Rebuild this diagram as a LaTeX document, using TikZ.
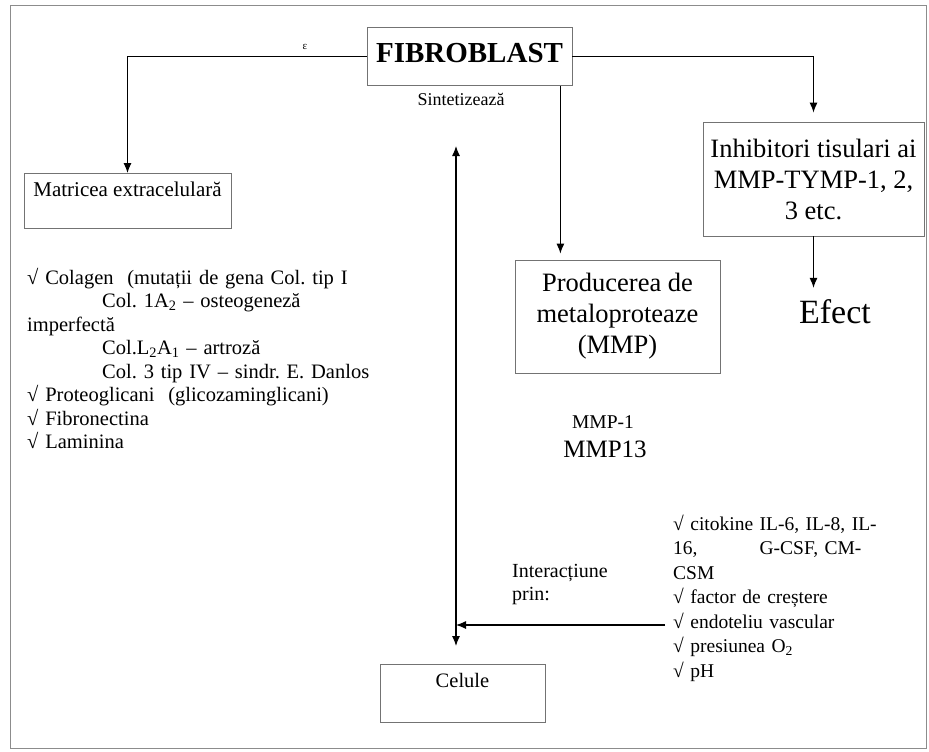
\documentclass[tikz,border=0pt]{standalone}
\usepackage{fontspec}
\setmainfont{Liberation Serif}
\frenchspacing
\usetikzlibrary{arrows.meta,positioning,calc}
\tikzset{
  box/.style={draw=black!55, line width=0.8pt, inner sep=0pt, align=center},
  smalltxt/.style={font=\fontsize{19.5}{24.5}\selectfont, inner sep=0pt},
  bigtxt/.style={font=\fontsize{26.5}{31}\selectfont, inner sep=0pt},
  link/.style={->, line width=1.1pt},
  pageframe/.style={draw=black!45, line width=1pt},
}
\begin{document}
\begin{tikzpicture}[x=1pt,y=-1pt,>={Latex[length=10pt,width=8pt]}]
    \useasboundingbox (0,0) rectangle (929,752);
    % Page frame
    \draw[pageframe] (10,6) rectangle (926,748);
    % Boxes
    \node[box, anchor=north, minimum width=205pt, text height=35pt, text depth=23pt,
          font=\fontsize{29}{29}\selectfont\bfseries] (fib) at (469.5,27) {FIBROBLAST};
    \node[box, smalltxt, font=\fontsize{21}{24}\selectfont, anchor=north, minimum width=207pt, text height=23pt, text depth=32pt] (matrix) at (127.5,173) {Matricea extracelulară};
    \node[box, bigtxt, minimum width=221pt, minimum height=114pt] (inh) at (813.5,179) {Inhibitori tisulari ai\\MMP-TYMP-1, 2,\\3 etc.};
    \node[box, bigtxt, minimum width=205pt, minimum height=113pt] (prod) at (617.5,316.5) {Producerea de\\metaloproteaze\\(MMP)};
    \node[box, smalltxt, font=\fontsize{20.5}{24}\selectfont, anchor=north, minimum width=165pt, text height=23pt, text depth=35pt] (cel) at (462.5,664) {Celule};
    % Free texts
    \node[anchor=base, inner sep=0pt, font=\fontsize{11}{11}\selectfont] (tick) at (305,49) {ε};
    \node[smalltxt, font=\fontsize{18}{22}\selectfont, anchor=base] (synth) at (461,106) {Sintetizează};
    \node[anchor=base, inner sep=0pt, font=\fontsize{34}{34}\selectfont] (efect) at (835,323) {Efect};
    \node[smalltxt, anchor=base] (mmp1) at (603,428) {MMP-1};
    \node[anchor=base, inner sep=0pt, font=\fontsize{25}{25}\selectfont] (mmp13) at (605,457) {MMP13};
    \node[smalltxt, font=\fontsize{20.5}{23.5}\selectfont, anchor=base west, text width=380pt, align=left] (ecm) at (27,284)
      {√ Colagen\ \ (mutații de gena Col. tip I\\
       \hspace*{75pt}Col. 1A\textsubscript{2} – osteogeneză\\
       imperfectă\\
       \hspace*{75pt}Col.L\textsubscript{2}A\textsubscript{1} – artroză\\
       \hspace*{75pt}Col. 3 tip IV – sindr. E. Danlos\\
       √ Proteoglicani\ \ (glicozaminglicani)\\
       √ Fibronectina\\
       √ Laminina};
    \node[smalltxt, font=\fontsize{20}{23.5}\selectfont, anchor=base west, text width=110pt, align=left] (prin) at (512,577) {Interacțiune\\prin:};
    \node[smalltxt, anchor=base west, text width=210pt, align=left] (factors) at (673,530)
      {√ citokine IL-6, IL-8, IL-\\
       16,\hspace{62pt}G-CSF, CM-\\
       CSM\\
       √ factor de creștere\\
       √ endoteliu vascular\\
       √ presiunea O\textsubscript{2}\\
       √ pH};
    % Connectors
    \draw[link] (fib.west) -| (matrix.north);
    \draw[link, shorten >=9pt] (fib.east) -| (inh.north);
    \coordinate (synth dn) at ([xshift=-12pt]fib.south east);
    \draw[link, shorten >=6pt] (synth dn) -- (synth dn |- prod.north);
    \draw[link, shorten >=11pt] (inh.south) -- (inh.south |- efect.north);
    \coordinate (loop top) at (456,146);
    \draw[link, <->, shorten >=18pt] (loop top) -- (loop top |- cel.north);
    \coordinate (via) at (665,625);
    \draw[link] (via) -- (via -| loop top);
\end{tikzpicture}
\end{document}
